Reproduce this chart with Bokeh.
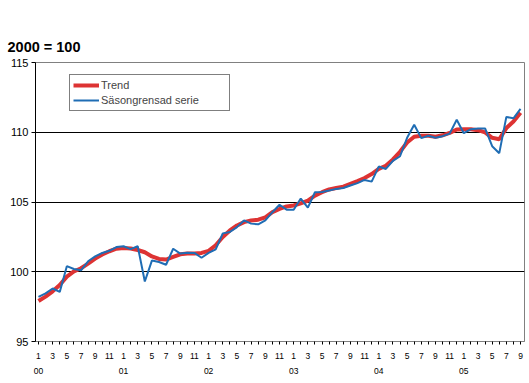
from bokeh.plotting import figure
from bokeh.models import FixedTicker, LinearAxis, Legend, LegendItem, Title, Range1d
from bokeh.embed import file_html
from bokeh.resources import INLINE

# ---- data ----
month_index = list(range(69))  # Jan 2000 .. Sep 2005
month_labels = [str(i % 12 + 1) if (i % 12) % 2 == 0 else "" for i in month_index]
year_ticks = [0, 12, 24, 36, 48, 60]
year_labels = ["00", "01", "02", "03", "04", "05"]
y_ticks = [95, 100, 105, 110, 115]
grid_ticks = [100, 105, 110]

trend = [97.9, 98.22, 98.6, 99.05, 99.65, 100.02, 100.25, 100.58, 100.94, 101.24,
         101.47, 101.65, 101.71, 101.67, 101.56, 101.4, 101.1, 100.92, 100.87, 101.06,
         101.25, 101.3, 101.3, 101.35, 101.5, 101.9, 102.49, 102.96, 103.32, 103.56,
         103.68, 103.73, 103.9, 104.27, 104.5, 104.68, 104.75, 104.9, 105.1, 105.46,
         105.7, 105.9, 106.0, 106.1, 106.3, 106.5, 106.72, 107.0, 107.37, 107.6,
         108.05, 108.6, 109.27, 109.68, 109.75, 109.75, 109.68, 109.78, 109.95, 110.2,
         110.22, 110.22, 110.15, 109.99, 109.6, 109.5, 110.3, 110.77, 111.4]

sasong = [98.2, 98.45, 98.8, 98.55, 100.4, 100.2, 100.1, 100.75, 101.1, 101.35,
          101.5, 101.77, 101.83, 101.62, 101.83, 99.3, 100.8, 100.7, 100.5, 101.65,
          101.3, 101.37, 101.35, 101.0, 101.35, 101.6, 102.75, 102.85, 103.2, 103.68,
          103.45, 103.4, 103.68, 104.27, 104.8, 104.45, 104.45, 105.25, 104.6, 105.7,
          105.72, 105.82, 105.94, 106.0, 106.18, 106.35, 106.58, 106.46, 107.54, 107.37,
          107.95, 108.28, 109.6, 110.54, 109.58, 109.75, 109.6, 109.72, 109.9, 110.9,
          109.93, 110.22, 110.27, 110.27, 109.0, 108.5, 111.1, 111.0, 111.68]

FONT = "Liberation Sans"

p = figure(width=529, height=383, output_backend="svg", toolbar_location=None,
           x_range=Range1d(-0.42, 68.56), y_range=Range1d(95, 115),
           min_border_left=35, min_border_right=5, min_border_top=62, min_border_bottom=42,
           background_fill_color="white", border_fill_color="white")

p.outline_line_color = "#808080"
p.outline_line_width = 1

p.xgrid.visible = False
p.ygrid.ticker = FixedTicker(ticks=grid_ticks)
p.ygrid.grid_line_color = "black"
p.ygrid.grid_line_width = 1

# y axis
p.yaxis.ticker = FixedTicker(ticks=y_ticks)
p.yaxis.axis_line_color = "black"
p.yaxis.major_tick_line_color = "black"
p.yaxis.major_tick_out = 4
p.yaxis.major_tick_in = 0
p.yaxis.minor_tick_line_color = None
p.yaxis.major_label_text_font = FONT
p.yaxis.major_label_text_font_size = "11px"
p.yaxis.major_label_text_color = "black"
p.yaxis.major_label_standoff = 3

# x axis (months)
p.xaxis.ticker = FixedTicker(ticks=month_index)
p.xaxis.major_label_overrides = {i: lab for i, lab in zip(month_index, month_labels)}
p.xaxis.axis_line_color = "#808080"
p.xaxis.major_tick_line_color = "black"
p.xaxis.major_tick_out = 3
p.xaxis.major_tick_in = 0
p.xaxis.minor_tick_line_color = None
p.xaxis.major_label_text_font = FONT
p.xaxis.major_label_text_font_size = "8.5px"
p.xaxis.major_label_text_color = "black"
p.xaxis.major_label_standoff = 8

# second axis for years
ax2 = LinearAxis(ticker=FixedTicker(ticks=year_ticks),
                 major_label_overrides={t: l for t, l in zip(year_ticks, year_labels)},
                 axis_line_color=None, major_tick_line_color=None, minor_tick_line_color=None,
                 major_tick_out=0, major_tick_in=0,
                 major_label_text_font=FONT, major_label_text_font_size="8.5px",
                 major_label_text_color="black", major_label_standoff=6)
p.add_layout(ax2, "below")

r_trend = p.line(month_index, trend, line_color="#dd3333", line_width=4)
r_sas = p.line(month_index, sasong, line_color="#1f6db4", line_width=2)

legend = Legend(items=[LegendItem(label="Trend", renderers=[r_trend]),
                       LegendItem(label="Säsongrensad serie", renderers=[r_sas])],
                location=(34, 230), orientation="vertical",
                border_line_color="black", border_line_width=1,
                background_fill_color="white", background_fill_alpha=1,
                label_text_font=FONT, label_text_font_size="11px",
                glyph_width=26, glyph_height=14, label_height=14, label_width=125,
                label_standoff=2, padding=3, spacing=1, margin=0)
p.add_layout(legend, "center")

title = Title(text="2000 = 100", align="left", offset=-28, standoff=15,
              text_font=FONT, text_font_style="bold", text_font_size="14.5px",
              text_color="black")
p.add_layout(title, "above")

open("out.html", "w").write(file_html(p, INLINE))
